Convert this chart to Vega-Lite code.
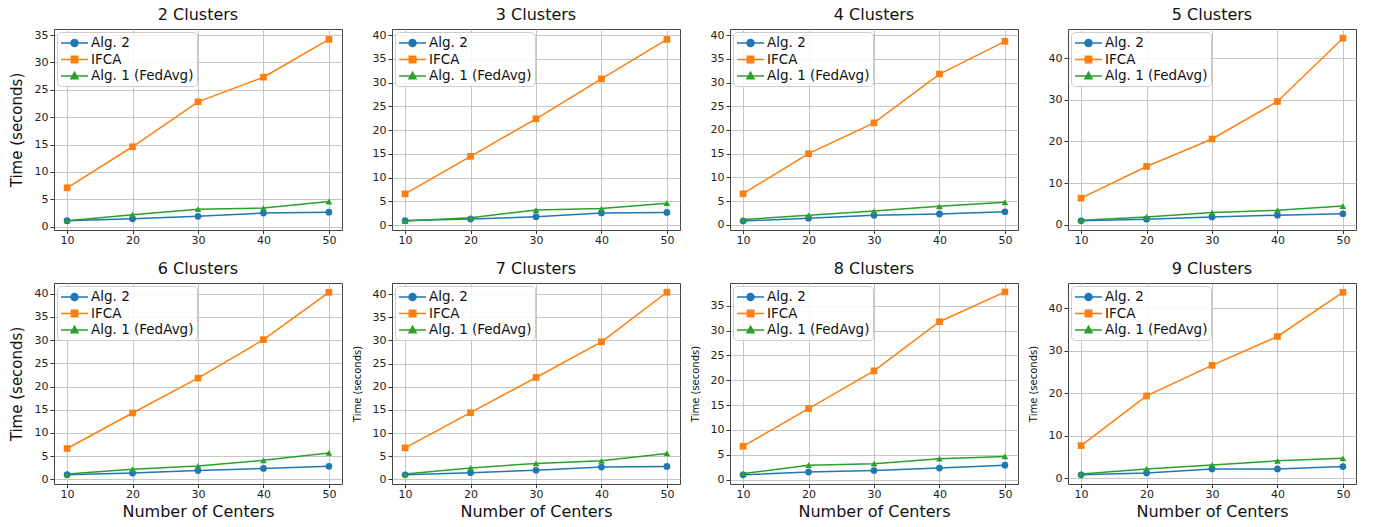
{
  "$schema": "https://vega.github.io/schema/vega-lite/v6.json",
  "padding": {"left": 8, "top": 6, "right": 5, "bottom": 5},
  "bounds": "flush",
  "columns": 4,
  "spacing": {"row": 53, "column": 50},
  "resolve": {"scale": {"y": "independent", "x": "independent"}, "legend": {"color": "independent"}},
  "datasets": {
    "c2": [
      {"centers": 10, "alg": "Alg. 2", "time": 1.1}, {"centers": 20, "alg": "Alg. 2", "time": 1.45}, {"centers": 30, "alg": "Alg. 2", "time": 1.9}, {"centers": 40, "alg": "Alg. 2", "time": 2.5}, {"centers": 50, "alg": "Alg. 2", "time": 2.65},
      {"centers": 10, "alg": "IFCA", "time": 7.1}, {"centers": 20, "alg": "IFCA", "time": 14.6}, {"centers": 30, "alg": "IFCA", "time": 22.8}, {"centers": 40, "alg": "IFCA", "time": 27.3}, {"centers": 50, "alg": "IFCA", "time": 34.2},
      {"centers": 10, "alg": "Alg. 1 (FedAvg)", "time": 1.1}, {"centers": 20, "alg": "Alg. 1 (FedAvg)", "time": 2.2}, {"centers": 30, "alg": "Alg. 1 (FedAvg)", "time": 3.2}, {"centers": 40, "alg": "Alg. 1 (FedAvg)", "time": 3.4}, {"centers": 50, "alg": "Alg. 1 (FedAvg)", "time": 4.6}
    ],
    "c3": [
      {"centers": 10, "alg": "Alg. 2", "time": 1.0}, {"centers": 20, "alg": "Alg. 2", "time": 1.3}, {"centers": 30, "alg": "Alg. 2", "time": 1.8}, {"centers": 40, "alg": "Alg. 2", "time": 2.6}, {"centers": 50, "alg": "Alg. 2", "time": 2.7},
      {"centers": 10, "alg": "IFCA", "time": 6.6}, {"centers": 20, "alg": "IFCA", "time": 14.5}, {"centers": 30, "alg": "IFCA", "time": 22.4}, {"centers": 40, "alg": "IFCA", "time": 30.8}, {"centers": 50, "alg": "IFCA", "time": 39.1},
      {"centers": 10, "alg": "Alg. 1 (FedAvg)", "time": 0.9}, {"centers": 20, "alg": "Alg. 1 (FedAvg)", "time": 1.6}, {"centers": 30, "alg": "Alg. 1 (FedAvg)", "time": 3.2}, {"centers": 40, "alg": "Alg. 1 (FedAvg)", "time": 3.5}, {"centers": 50, "alg": "Alg. 1 (FedAvg)", "time": 4.65}
    ],
    "c4": [
      {"centers": 10, "alg": "Alg. 2", "time": 0.8}, {"centers": 20, "alg": "Alg. 2", "time": 1.4}, {"centers": 30, "alg": "Alg. 2", "time": 2.0}, {"centers": 40, "alg": "Alg. 2", "time": 2.3}, {"centers": 50, "alg": "Alg. 2", "time": 2.75},
      {"centers": 10, "alg": "IFCA", "time": 6.55}, {"centers": 20, "alg": "IFCA", "time": 15.0}, {"centers": 30, "alg": "IFCA", "time": 21.5}, {"centers": 40, "alg": "IFCA", "time": 31.8}, {"centers": 50, "alg": "IFCA", "time": 38.7},
      {"centers": 10, "alg": "Alg. 1 (FedAvg)", "time": 1.1}, {"centers": 20, "alg": "Alg. 1 (FedAvg)", "time": 2.0}, {"centers": 30, "alg": "Alg. 1 (FedAvg)", "time": 2.9}, {"centers": 40, "alg": "Alg. 1 (FedAvg)", "time": 3.9}, {"centers": 50, "alg": "Alg. 1 (FedAvg)", "time": 4.75}
    ],
    "c5": [
      {"centers": 10, "alg": "Alg. 2", "time": 0.95}, {"centers": 20, "alg": "Alg. 2", "time": 1.35}, {"centers": 30, "alg": "Alg. 2", "time": 1.9}, {"centers": 40, "alg": "Alg. 2", "time": 2.3}, {"centers": 50, "alg": "Alg. 2", "time": 2.65},
      {"centers": 10, "alg": "IFCA", "time": 6.4}, {"centers": 20, "alg": "IFCA", "time": 14.0}, {"centers": 30, "alg": "IFCA", "time": 20.6}, {"centers": 40, "alg": "IFCA", "time": 29.6}, {"centers": 50, "alg": "IFCA", "time": 44.8},
      {"centers": 10, "alg": "Alg. 1 (FedAvg)", "time": 1.1}, {"centers": 20, "alg": "Alg. 1 (FedAvg)", "time": 1.9}, {"centers": 30, "alg": "Alg. 1 (FedAvg)", "time": 2.95}, {"centers": 40, "alg": "Alg. 1 (FedAvg)", "time": 3.5}, {"centers": 50, "alg": "Alg. 1 (FedAvg)", "time": 4.5}
    ],
    "c6": [
      {"centers": 10, "alg": "Alg. 2", "time": 1.0}, {"centers": 20, "alg": "Alg. 2", "time": 1.35}, {"centers": 30, "alg": "Alg. 2", "time": 1.9}, {"centers": 40, "alg": "Alg. 2", "time": 2.35}, {"centers": 50, "alg": "Alg. 2", "time": 2.8},
      {"centers": 10, "alg": "IFCA", "time": 6.65}, {"centers": 20, "alg": "IFCA", "time": 14.3}, {"centers": 30, "alg": "IFCA", "time": 21.8}, {"centers": 40, "alg": "IFCA", "time": 30.1}, {"centers": 50, "alg": "IFCA", "time": 40.3},
      {"centers": 10, "alg": "Alg. 1 (FedAvg)", "time": 1.15}, {"centers": 20, "alg": "Alg. 1 (FedAvg)", "time": 2.2}, {"centers": 30, "alg": "Alg. 1 (FedAvg)", "time": 2.9}, {"centers": 40, "alg": "Alg. 1 (FedAvg)", "time": 4.1}, {"centers": 50, "alg": "Alg. 1 (FedAvg)", "time": 5.7}
    ],
    "c7": [
      {"centers": 10, "alg": "Alg. 2", "time": 1.0}, {"centers": 20, "alg": "Alg. 2", "time": 1.45}, {"centers": 30, "alg": "Alg. 2", "time": 1.95}, {"centers": 40, "alg": "Alg. 2", "time": 2.65}, {"centers": 50, "alg": "Alg. 2", "time": 2.8},
      {"centers": 10, "alg": "IFCA", "time": 6.8}, {"centers": 20, "alg": "IFCA", "time": 14.4}, {"centers": 30, "alg": "IFCA", "time": 22.0}, {"centers": 40, "alg": "IFCA", "time": 29.7}, {"centers": 50, "alg": "IFCA", "time": 40.4},
      {"centers": 10, "alg": "Alg. 1 (FedAvg)", "time": 1.15}, {"centers": 20, "alg": "Alg. 1 (FedAvg)", "time": 2.45}, {"centers": 30, "alg": "Alg. 1 (FedAvg)", "time": 3.45}, {"centers": 40, "alg": "Alg. 1 (FedAvg)", "time": 4.0}, {"centers": 50, "alg": "Alg. 1 (FedAvg)", "time": 5.6}
    ],
    "c8": [
      {"centers": 10, "alg": "Alg. 2", "time": 0.95}, {"centers": 20, "alg": "Alg. 2", "time": 1.5}, {"centers": 30, "alg": "Alg. 2", "time": 1.8}, {"centers": 40, "alg": "Alg. 2", "time": 2.3}, {"centers": 50, "alg": "Alg. 2", "time": 2.9},
      {"centers": 10, "alg": "IFCA", "time": 6.7}, {"centers": 20, "alg": "IFCA", "time": 14.3}, {"centers": 30, "alg": "IFCA", "time": 21.9}, {"centers": 40, "alg": "IFCA", "time": 31.8}, {"centers": 50, "alg": "IFCA", "time": 37.8},
      {"centers": 10, "alg": "Alg. 1 (FedAvg)", "time": 1.2}, {"centers": 20, "alg": "Alg. 1 (FedAvg)", "time": 2.9}, {"centers": 30, "alg": "Alg. 1 (FedAvg)", "time": 3.2}, {"centers": 40, "alg": "Alg. 1 (FedAvg)", "time": 4.2}, {"centers": 50, "alg": "Alg. 1 (FedAvg)", "time": 4.65}
    ],
    "c9": [
      {"centers": 10, "alg": "Alg. 2", "time": 0.8}, {"centers": 20, "alg": "Alg. 2", "time": 1.25}, {"centers": 30, "alg": "Alg. 2", "time": 2.2}, {"centers": 40, "alg": "Alg. 2", "time": 2.2}, {"centers": 50, "alg": "Alg. 2", "time": 2.75},
      {"centers": 10, "alg": "IFCA", "time": 7.7}, {"centers": 20, "alg": "IFCA", "time": 19.4}, {"centers": 30, "alg": "IFCA", "time": 26.6}, {"centers": 40, "alg": "IFCA", "time": 33.4}, {"centers": 50, "alg": "IFCA", "time": 43.8},
      {"centers": 10, "alg": "Alg. 1 (FedAvg)", "time": 1.0}, {"centers": 20, "alg": "Alg. 1 (FedAvg)", "time": 2.2}, {"centers": 30, "alg": "Alg. 1 (FedAvg)", "time": 3.15}, {"centers": 40, "alg": "Alg. 1 (FedAvg)", "time": 4.1}, {"centers": 50, "alg": "Alg. 1 (FedAvg)", "time": 4.7}
    ]
  },
  "concat": [
    {
      "title": "2 Clusters", "width": 288, "height": 201, "data": {"name": "c2"},
      "encoding": {
        "x": {"field": "centers", "type": "quantitative", "scale": {"domain": [8, 52], "nice": false, "zero": false}, "axis": {"values": [10, 20, 30, 40, 50], "title": null}},
        "y": {"field": "time", "type": "quantitative", "scale": {"domain": [-0.6, 36.1], "nice": false, "zero": false}, "axis": {"values": [0, 5, 10, 15, 20, 25, 30, 35], "title": "Time (seconds)", "titleFontSize": 15}},
        "color": {"field": "alg", "type": "nominal", "scale": {"domain": ["Alg. 2", "IFCA", "Alg. 1 (FedAvg)"], "range": ["#1f77b4", "#ff7f0e", "#2ca02c"]},
          "legend": {"title": null, "orient": "top-left", "offset": 3, "padding": 3, "fillColor": "rgba(255,255,255,0.85)", "strokeColor": "#cccccc", "cornerRadius": 4, "labelFont": "DejaVu Sans", "labelFontSize": 13.5, "labelColor": "#111111", "symbolSize": 196, "rowPadding": 1.5, "labelOffset": 15,
            "encode": {"symbols": {"update": {
              "shape": {"signal": "datum.value === 'Alg. 2' ? 'M-1,0H2.86M1.43,0A0.5,0.5,0,1,1,0.43,0A0.5,0.5,0,1,1,1.43,0Z' : datum.value === 'IFCA' ? 'M-1,0H2.86M0.47,-0.46H1.39V0.46H0.47Z' : 'M-1,0H2.86M0.93,-0.54L1.44,0.4L0.42,0.4Z'"},
              "fill": {"signal": "datum.value === 'Alg. 2' ? '#1f77b4' : datum.value === 'IFCA' ? '#ff7f0e' : '#2ca02c'"},
              "stroke": {"signal": "datum.value === 'Alg. 2' ? '#1f77b4' : datum.value === 'IFCA' ? '#ff7f0e' : '#2ca02c'"},
              "strokeWidth": {"value": 1.5}, "opacity": {"value": 1}}}}}}
      },
      "layer": [
        {"mark": {"type": "line", "strokeWidth": 1.5}},
        {"transform": [{"filter": "datum.alg === 'Alg. 2'"}], "mark": {"type": "point", "shape": "circle", "filled": true, "size": 45, "opacity": 1}},
        {"transform": [{"filter": "datum.alg === 'IFCA'"}], "mark": {"type": "point", "shape": "square", "filled": true, "size": 45, "opacity": 1}},
        {"transform": [{"filter": "datum.alg === 'Alg. 1 (FedAvg)'"}], "mark": {"type": "point", "shape": "triangle-up", "filled": true, "size": 45, "opacity": 1}}
      ]
    },
    {
      "title": "3 Clusters", "width": 288, "height": 201, "data": {"name": "c3"},
      "encoding": {
        "x": {"field": "centers", "type": "quantitative", "scale": {"domain": [8, 52], "nice": false, "zero": false}, "axis": {"values": [10, 20, 30, 40, 50], "title": null}},
        "y": {"field": "time", "type": "quantitative", "scale": {"domain": [-1.0, 41.3], "nice": false, "zero": false}, "axis": {"values": [0, 5, 10, 15, 20, 25, 30, 35, 40], "title": null}},
        "color": {"field": "alg", "type": "nominal", "scale": {"domain": ["Alg. 2", "IFCA", "Alg. 1 (FedAvg)"], "range": ["#1f77b4", "#ff7f0e", "#2ca02c"]},
          "legend": {"title": null, "orient": "top-left", "offset": 3, "padding": 3, "fillColor": "rgba(255,255,255,0.85)", "strokeColor": "#cccccc", "cornerRadius": 4, "labelFont": "DejaVu Sans", "labelFontSize": 13.5, "labelColor": "#111111", "symbolSize": 196, "rowPadding": 1.5, "labelOffset": 15,
            "encode": {"symbols": {"update": {
              "shape": {"signal": "datum.value === 'Alg. 2' ? 'M-1,0H2.86M1.43,0A0.5,0.5,0,1,1,0.43,0A0.5,0.5,0,1,1,1.43,0Z' : datum.value === 'IFCA' ? 'M-1,0H2.86M0.47,-0.46H1.39V0.46H0.47Z' : 'M-1,0H2.86M0.93,-0.54L1.44,0.4L0.42,0.4Z'"},
              "fill": {"signal": "datum.value === 'Alg. 2' ? '#1f77b4' : datum.value === 'IFCA' ? '#ff7f0e' : '#2ca02c'"},
              "stroke": {"signal": "datum.value === 'Alg. 2' ? '#1f77b4' : datum.value === 'IFCA' ? '#ff7f0e' : '#2ca02c'"},
              "strokeWidth": {"value": 1.5}, "opacity": {"value": 1}}}}}}
      },
      "layer": [
        {"mark": {"type": "line", "strokeWidth": 1.5}},
        {"transform": [{"filter": "datum.alg === 'Alg. 2'"}], "mark": {"type": "point", "shape": "circle", "filled": true, "size": 45, "opacity": 1}},
        {"transform": [{"filter": "datum.alg === 'IFCA'"}], "mark": {"type": "point", "shape": "square", "filled": true, "size": 45, "opacity": 1}},
        {"transform": [{"filter": "datum.alg === 'Alg. 1 (FedAvg)'"}], "mark": {"type": "point", "shape": "triangle-up", "filled": true, "size": 45, "opacity": 1}}
      ]
    },
    {
      "title": "4 Clusters", "width": 288, "height": 201, "data": {"name": "c4"},
      "encoding": {
        "x": {"field": "centers", "type": "quantitative", "scale": {"domain": [8, 52], "nice": false, "zero": false}, "axis": {"values": [10, 20, 30, 40, 50], "title": null}},
        "y": {"field": "time", "type": "quantitative", "scale": {"domain": [-1.1, 41.3], "nice": false, "zero": false}, "axis": {"values": [0, 5, 10, 15, 20, 25, 30, 35, 40], "title": null}},
        "color": {"field": "alg", "type": "nominal", "scale": {"domain": ["Alg. 2", "IFCA", "Alg. 1 (FedAvg)"], "range": ["#1f77b4", "#ff7f0e", "#2ca02c"]},
          "legend": {"title": null, "orient": "top-left", "offset": 3, "padding": 3, "fillColor": "rgba(255,255,255,0.85)", "strokeColor": "#cccccc", "cornerRadius": 4, "labelFont": "DejaVu Sans", "labelFontSize": 13.5, "labelColor": "#111111", "symbolSize": 196, "rowPadding": 1.5, "labelOffset": 15,
            "encode": {"symbols": {"update": {
              "shape": {"signal": "datum.value === 'Alg. 2' ? 'M-1,0H2.86M1.43,0A0.5,0.5,0,1,1,0.43,0A0.5,0.5,0,1,1,1.43,0Z' : datum.value === 'IFCA' ? 'M-1,0H2.86M0.47,-0.46H1.39V0.46H0.47Z' : 'M-1,0H2.86M0.93,-0.54L1.44,0.4L0.42,0.4Z'"},
              "fill": {"signal": "datum.value === 'Alg. 2' ? '#1f77b4' : datum.value === 'IFCA' ? '#ff7f0e' : '#2ca02c'"},
              "stroke": {"signal": "datum.value === 'Alg. 2' ? '#1f77b4' : datum.value === 'IFCA' ? '#ff7f0e' : '#2ca02c'"},
              "strokeWidth": {"value": 1.5}, "opacity": {"value": 1}}}}}}
      },
      "layer": [
        {"mark": {"type": "line", "strokeWidth": 1.5}},
        {"transform": [{"filter": "datum.alg === 'Alg. 2'"}], "mark": {"type": "point", "shape": "circle", "filled": true, "size": 45, "opacity": 1}},
        {"transform": [{"filter": "datum.alg === 'IFCA'"}], "mark": {"type": "point", "shape": "square", "filled": true, "size": 45, "opacity": 1}},
        {"transform": [{"filter": "datum.alg === 'Alg. 1 (FedAvg)'"}], "mark": {"type": "point", "shape": "triangle-up", "filled": true, "size": 45, "opacity": 1}}
      ]
    },
    {
      "title": "5 Clusters", "width": 288, "height": 201, "data": {"name": "c5"},
      "encoding": {
        "x": {"field": "centers", "type": "quantitative", "scale": {"domain": [8, 52], "nice": false, "zero": false}, "axis": {"values": [10, 20, 30, 40, 50], "title": null}},
        "y": {"field": "time", "type": "quantitative", "scale": {"domain": [-1.25, 47.0], "nice": false, "zero": false}, "axis": {"values": [0, 10, 20, 30, 40], "title": null}},
        "color": {"field": "alg", "type": "nominal", "scale": {"domain": ["Alg. 2", "IFCA", "Alg. 1 (FedAvg)"], "range": ["#1f77b4", "#ff7f0e", "#2ca02c"]},
          "legend": {"title": null, "orient": "top-left", "offset": 3, "padding": 3, "fillColor": "rgba(255,255,255,0.85)", "strokeColor": "#cccccc", "cornerRadius": 4, "labelFont": "DejaVu Sans", "labelFontSize": 13.5, "labelColor": "#111111", "symbolSize": 196, "rowPadding": 1.5, "labelOffset": 15,
            "encode": {"symbols": {"update": {
              "shape": {"signal": "datum.value === 'Alg. 2' ? 'M-1,0H2.86M1.43,0A0.5,0.5,0,1,1,0.43,0A0.5,0.5,0,1,1,1.43,0Z' : datum.value === 'IFCA' ? 'M-1,0H2.86M0.47,-0.46H1.39V0.46H0.47Z' : 'M-1,0H2.86M0.93,-0.54L1.44,0.4L0.42,0.4Z'"},
              "fill": {"signal": "datum.value === 'Alg. 2' ? '#1f77b4' : datum.value === 'IFCA' ? '#ff7f0e' : '#2ca02c'"},
              "stroke": {"signal": "datum.value === 'Alg. 2' ? '#1f77b4' : datum.value === 'IFCA' ? '#ff7f0e' : '#2ca02c'"},
              "strokeWidth": {"value": 1.5}, "opacity": {"value": 1}}}}}}
      },
      "layer": [
        {"mark": {"type": "line", "strokeWidth": 1.5}},
        {"transform": [{"filter": "datum.alg === 'Alg. 2'"}], "mark": {"type": "point", "shape": "circle", "filled": true, "size": 45, "opacity": 1}},
        {"transform": [{"filter": "datum.alg === 'IFCA'"}], "mark": {"type": "point", "shape": "square", "filled": true, "size": 45, "opacity": 1}},
        {"transform": [{"filter": "datum.alg === 'Alg. 1 (FedAvg)'"}], "mark": {"type": "point", "shape": "triangle-up", "filled": true, "size": 45, "opacity": 1}}
      ]
    },
    {
      "title": "6 Clusters", "width": 288, "height": 201, "data": {"name": "c6"},
      "encoding": {
        "x": {"field": "centers", "type": "quantitative", "scale": {"domain": [8, 52], "nice": false, "zero": false}, "axis": {"values": [10, 20, 30, 40, 50], "title": "Number of Centers"}},
        "y": {"field": "time", "type": "quantitative", "scale": {"domain": [-1.0, 42.3], "nice": false, "zero": false}, "axis": {"values": [0, 5, 10, 15, 20, 25, 30, 35, 40], "title": "Time (seconds)", "titleFontSize": 15}},
        "color": {"field": "alg", "type": "nominal", "scale": {"domain": ["Alg. 2", "IFCA", "Alg. 1 (FedAvg)"], "range": ["#1f77b4", "#ff7f0e", "#2ca02c"]},
          "legend": {"title": null, "orient": "top-left", "offset": 3, "padding": 3, "fillColor": "rgba(255,255,255,0.85)", "strokeColor": "#cccccc", "cornerRadius": 4, "labelFont": "DejaVu Sans", "labelFontSize": 13.5, "labelColor": "#111111", "symbolSize": 196, "rowPadding": 1.5, "labelOffset": 15,
            "encode": {"symbols": {"update": {
              "shape": {"signal": "datum.value === 'Alg. 2' ? 'M-1,0H2.86M1.43,0A0.5,0.5,0,1,1,0.43,0A0.5,0.5,0,1,1,1.43,0Z' : datum.value === 'IFCA' ? 'M-1,0H2.86M0.47,-0.46H1.39V0.46H0.47Z' : 'M-1,0H2.86M0.93,-0.54L1.44,0.4L0.42,0.4Z'"},
              "fill": {"signal": "datum.value === 'Alg. 2' ? '#1f77b4' : datum.value === 'IFCA' ? '#ff7f0e' : '#2ca02c'"},
              "stroke": {"signal": "datum.value === 'Alg. 2' ? '#1f77b4' : datum.value === 'IFCA' ? '#ff7f0e' : '#2ca02c'"},
              "strokeWidth": {"value": 1.5}, "opacity": {"value": 1}}}}}}
      },
      "layer": [
        {"mark": {"type": "line", "strokeWidth": 1.5}},
        {"transform": [{"filter": "datum.alg === 'Alg. 2'"}], "mark": {"type": "point", "shape": "circle", "filled": true, "size": 45, "opacity": 1}},
        {"transform": [{"filter": "datum.alg === 'IFCA'"}], "mark": {"type": "point", "shape": "square", "filled": true, "size": 45, "opacity": 1}},
        {"transform": [{"filter": "datum.alg === 'Alg. 1 (FedAvg)'"}], "mark": {"type": "point", "shape": "triangle-up", "filled": true, "size": 45, "opacity": 1}}
      ]
    },
    {
      "title": "7 Clusters", "width": 288, "height": 201, "data": {"name": "c7"},
      "encoding": {
        "x": {"field": "centers", "type": "quantitative", "scale": {"domain": [8, 52], "nice": false, "zero": false}, "axis": {"values": [10, 20, 30, 40, 50], "title": "Number of Centers"}},
        "y": {"field": "time", "type": "quantitative", "scale": {"domain": [-1.0, 42.4], "nice": false, "zero": false}, "axis": {"values": [0, 5, 10, 15, 20, 25, 30, 35, 40], "title": "Time (seconds)", "titleFontSize": 10}},
        "color": {"field": "alg", "type": "nominal", "scale": {"domain": ["Alg. 2", "IFCA", "Alg. 1 (FedAvg)"], "range": ["#1f77b4", "#ff7f0e", "#2ca02c"]},
          "legend": {"title": null, "orient": "top-left", "offset": 3, "padding": 3, "fillColor": "rgba(255,255,255,0.85)", "strokeColor": "#cccccc", "cornerRadius": 4, "labelFont": "DejaVu Sans", "labelFontSize": 13.5, "labelColor": "#111111", "symbolSize": 196, "rowPadding": 1.5, "labelOffset": 15,
            "encode": {"symbols": {"update": {
              "shape": {"signal": "datum.value === 'Alg. 2' ? 'M-1,0H2.86M1.43,0A0.5,0.5,0,1,1,0.43,0A0.5,0.5,0,1,1,1.43,0Z' : datum.value === 'IFCA' ? 'M-1,0H2.86M0.47,-0.46H1.39V0.46H0.47Z' : 'M-1,0H2.86M0.93,-0.54L1.44,0.4L0.42,0.4Z'"},
              "fill": {"signal": "datum.value === 'Alg. 2' ? '#1f77b4' : datum.value === 'IFCA' ? '#ff7f0e' : '#2ca02c'"},
              "stroke": {"signal": "datum.value === 'Alg. 2' ? '#1f77b4' : datum.value === 'IFCA' ? '#ff7f0e' : '#2ca02c'"},
              "strokeWidth": {"value": 1.5}, "opacity": {"value": 1}}}}}}
      },
      "layer": [
        {"mark": {"type": "line", "strokeWidth": 1.5}},
        {"transform": [{"filter": "datum.alg === 'Alg. 2'"}], "mark": {"type": "point", "shape": "circle", "filled": true, "size": 45, "opacity": 1}},
        {"transform": [{"filter": "datum.alg === 'IFCA'"}], "mark": {"type": "point", "shape": "square", "filled": true, "size": 45, "opacity": 1}},
        {"transform": [{"filter": "datum.alg === 'Alg. 1 (FedAvg)'"}], "mark": {"type": "point", "shape": "triangle-up", "filled": true, "size": 45, "opacity": 1}}
      ]
    },
    {
      "title": "8 Clusters", "width": 288, "height": 201, "data": {"name": "c8"},
      "encoding": {
        "x": {"field": "centers", "type": "quantitative", "scale": {"domain": [8, 52], "nice": false, "zero": false}, "axis": {"values": [10, 20, 30, 40, 50], "title": "Number of Centers"}},
        "y": {"field": "time", "type": "quantitative", "scale": {"domain": [-0.9, 39.6], "nice": false, "zero": false}, "axis": {"values": [0, 5, 10, 15, 20, 25, 30, 35], "title": "Time (seconds)", "titleFontSize": 10}},
        "color": {"field": "alg", "type": "nominal", "scale": {"domain": ["Alg. 2", "IFCA", "Alg. 1 (FedAvg)"], "range": ["#1f77b4", "#ff7f0e", "#2ca02c"]},
          "legend": {"title": null, "orient": "top-left", "offset": 3, "padding": 3, "fillColor": "rgba(255,255,255,0.85)", "strokeColor": "#cccccc", "cornerRadius": 4, "labelFont": "DejaVu Sans", "labelFontSize": 13.5, "labelColor": "#111111", "symbolSize": 196, "rowPadding": 1.5, "labelOffset": 15,
            "encode": {"symbols": {"update": {
              "shape": {"signal": "datum.value === 'Alg. 2' ? 'M-1,0H2.86M1.43,0A0.5,0.5,0,1,1,0.43,0A0.5,0.5,0,1,1,1.43,0Z' : datum.value === 'IFCA' ? 'M-1,0H2.86M0.47,-0.46H1.39V0.46H0.47Z' : 'M-1,0H2.86M0.93,-0.54L1.44,0.4L0.42,0.4Z'"},
              "fill": {"signal": "datum.value === 'Alg. 2' ? '#1f77b4' : datum.value === 'IFCA' ? '#ff7f0e' : '#2ca02c'"},
              "stroke": {"signal": "datum.value === 'Alg. 2' ? '#1f77b4' : datum.value === 'IFCA' ? '#ff7f0e' : '#2ca02c'"},
              "strokeWidth": {"value": 1.5}, "opacity": {"value": 1}}}}}}
      },
      "layer": [
        {"mark": {"type": "line", "strokeWidth": 1.5}},
        {"transform": [{"filter": "datum.alg === 'Alg. 2'"}], "mark": {"type": "point", "shape": "circle", "filled": true, "size": 45, "opacity": 1}},
        {"transform": [{"filter": "datum.alg === 'IFCA'"}], "mark": {"type": "point", "shape": "square", "filled": true, "size": 45, "opacity": 1}},
        {"transform": [{"filter": "datum.alg === 'Alg. 1 (FedAvg)'"}], "mark": {"type": "point", "shape": "triangle-up", "filled": true, "size": 45, "opacity": 1}}
      ]
    },
    {
      "title": "9 Clusters", "width": 288, "height": 201, "data": {"name": "c9"},
      "encoding": {
        "x": {"field": "centers", "type": "quantitative", "scale": {"domain": [8, 52], "nice": false, "zero": false}, "axis": {"values": [10, 20, 30, 40, 50], "title": "Number of Centers"}},
        "y": {"field": "time", "type": "quantitative", "scale": {"domain": [-1.35, 46.0], "nice": false, "zero": false}, "axis": {"values": [0, 10, 20, 30, 40], "title": "Time (seconds)", "titleFontSize": 10}},
        "color": {"field": "alg", "type": "nominal", "scale": {"domain": ["Alg. 2", "IFCA", "Alg. 1 (FedAvg)"], "range": ["#1f77b4", "#ff7f0e", "#2ca02c"]},
          "legend": {"title": null, "orient": "top-left", "offset": 3, "padding": 3, "fillColor": "rgba(255,255,255,0.85)", "strokeColor": "#cccccc", "cornerRadius": 4, "labelFont": "DejaVu Sans", "labelFontSize": 13.5, "labelColor": "#111111", "symbolSize": 196, "rowPadding": 1.5, "labelOffset": 15,
            "encode": {"symbols": {"update": {
              "shape": {"signal": "datum.value === 'Alg. 2' ? 'M-1,0H2.86M1.43,0A0.5,0.5,0,1,1,0.43,0A0.5,0.5,0,1,1,1.43,0Z' : datum.value === 'IFCA' ? 'M-1,0H2.86M0.47,-0.46H1.39V0.46H0.47Z' : 'M-1,0H2.86M0.93,-0.54L1.44,0.4L0.42,0.4Z'"},
              "fill": {"signal": "datum.value === 'Alg. 2' ? '#1f77b4' : datum.value === 'IFCA' ? '#ff7f0e' : '#2ca02c'"},
              "stroke": {"signal": "datum.value === 'Alg. 2' ? '#1f77b4' : datum.value === 'IFCA' ? '#ff7f0e' : '#2ca02c'"},
              "strokeWidth": {"value": 1.5}, "opacity": {"value": 1}}}}}}
      },
      "layer": [
        {"mark": {"type": "line", "strokeWidth": 1.5}},
        {"transform": [{"filter": "datum.alg === 'Alg. 2'"}], "mark": {"type": "point", "shape": "circle", "filled": true, "size": 45, "opacity": 1}},
        {"transform": [{"filter": "datum.alg === 'IFCA'"}], "mark": {"type": "point", "shape": "square", "filled": true, "size": 45, "opacity": 1}},
        {"transform": [{"filter": "datum.alg === 'Alg. 1 (FedAvg)'"}], "mark": {"type": "point", "shape": "triangle-up", "filled": true, "size": 45, "opacity": 1}}
      ]
    }
  ],
  "config": {
    "font": "DejaVu Sans",
    "view": {"stroke": "#444444", "strokeWidth": 1},
    "axis": {"grid": true, "gridColor": "#b8b8b8", "gridWidth": 0.8, "domain": false, "tickColor": "#333333", "tickSize": 4, "labelFont": "DejaVu Sans", "labelFontSize": 11, "labelColor": "#222222", "labelPadding": 2, "titleFont": "DejaVu Sans", "titleFontWeight": "normal", "titleColor": "#111111", "titleFontSize": 16},
    "axisX": {"titlePadding": 4, "labelPadding": 1, "tickSize": 3.5},
    "axisY": {"titlePadding": 10},
    "title": {"font": "DejaVu Sans", "fontSize": 16, "fontWeight": "normal", "color": "#111111", "offset": 6}
  }
}
